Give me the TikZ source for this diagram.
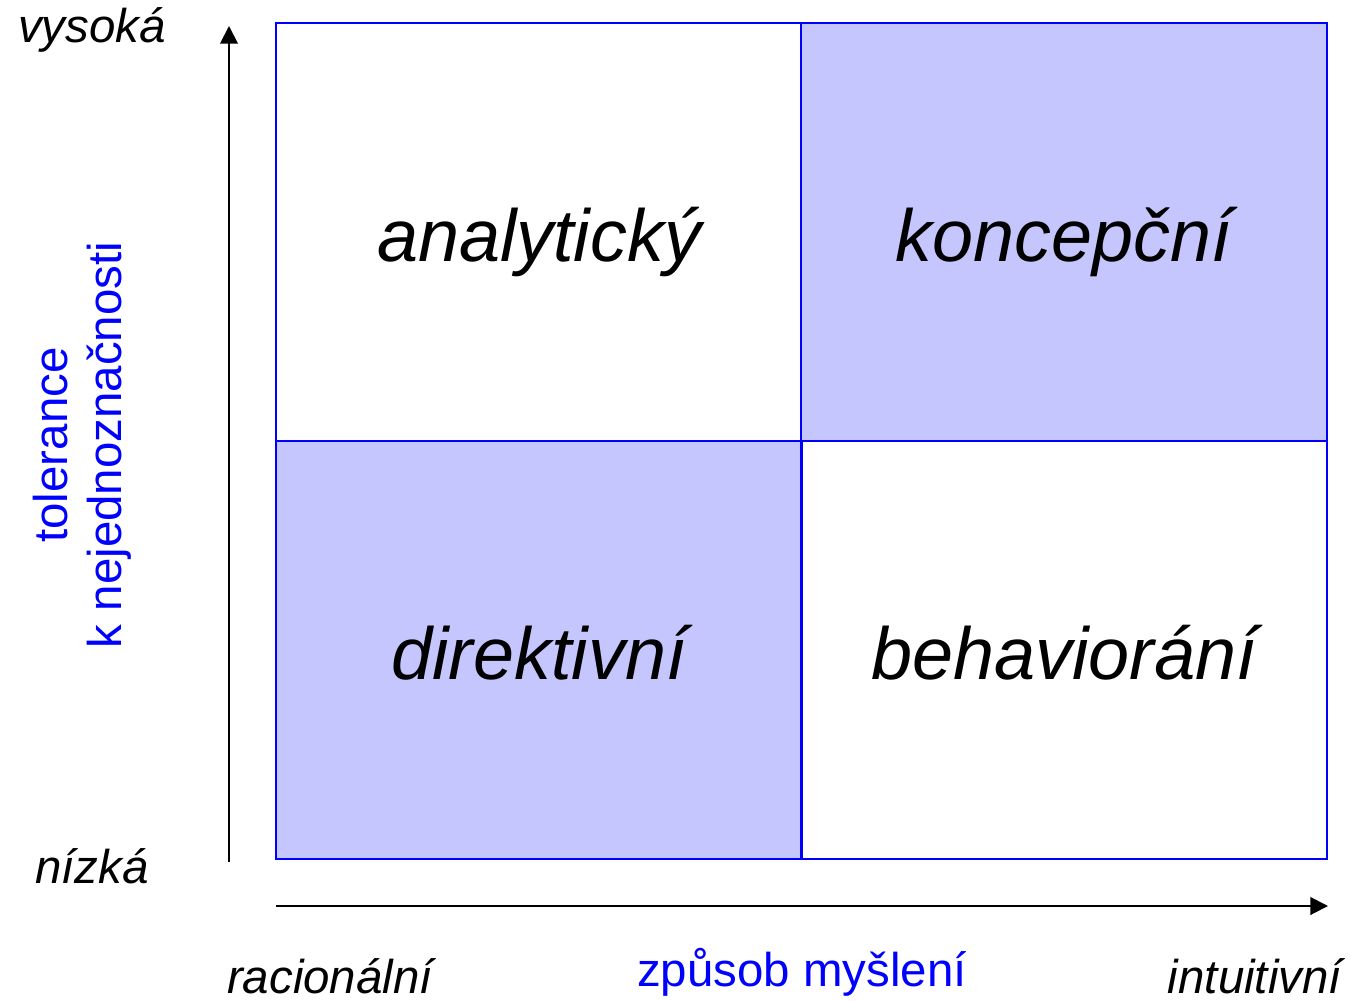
\documentclass[tikz,border=0pt]{standalone}
\usepackage{fontspec}
\setmainfont{Liberation Sans}
\usetikzlibrary{arrows.meta}
\definecolor{fialova}{RGB}{198,198,255}
\tikzstyle{kvadrant}=[rectangle, draw=blue, line width=1.1pt, minimum width=10.51cm, minimum height=8.36cm, inner sep=0pt, text height=34pt, text depth=0pt, font=\fontsize{42}{50}\selectfont\itshape]
\tikzstyle{osa}=[line width=1.1pt, -{Triangle[length=10pt,width=10pt]}]
\tikzstyle{popis}=[inner sep=0pt, font=\fontsize{27}{31}\selectfont\itshape]
\tikzstyle{modra}=[inner sep=0pt, text=blue, font=\fontsize{27}{31}\selectfont]
\newcommand{\kvadrant}{\node[kvadrant]}

\begin{document}
\begin{tikzpicture}[x=0.02cm,y=-0.02cm]
\useasboundingbox (0,0) rectangle (1350,1001);
% styly rozhodovani
\kvadrant (an) at (539,232) {analytický};
\kvadrant[fill=fialova] (ko) at (1064,232) {koncepční};
\kvadrant[fill=fialova] (di) at (539,650) {direktivní};
\kvadrant (be) at (1064,650) {behaviorání};
% osy
\coordinate (y0) at (229,862);
\coordinate (y1) at (229,26);
\coordinate (x0) at (276,906);
\coordinate (x1) at (1328,906);
\draw[osa] (y0) -- (y1);
\draw[osa] (x0) -- (x1);
% popisky
\node[popis] (vys) at (92,30) {vysoká};
\node[popis] (niz) at (92,866) {nízká};
\node[popis] (rac) at (330,976) {racionální};
\node[popis] (int) at (1255,976) {intuitivní};
\node[modra] (zpu) at (802,972) {způsob myšlení};
\node[modra, rotate=90, align=center] (tol) at (82,445) {tolerance\\k nejednoznačnosti};
\end{tikzpicture}
\end{document}
